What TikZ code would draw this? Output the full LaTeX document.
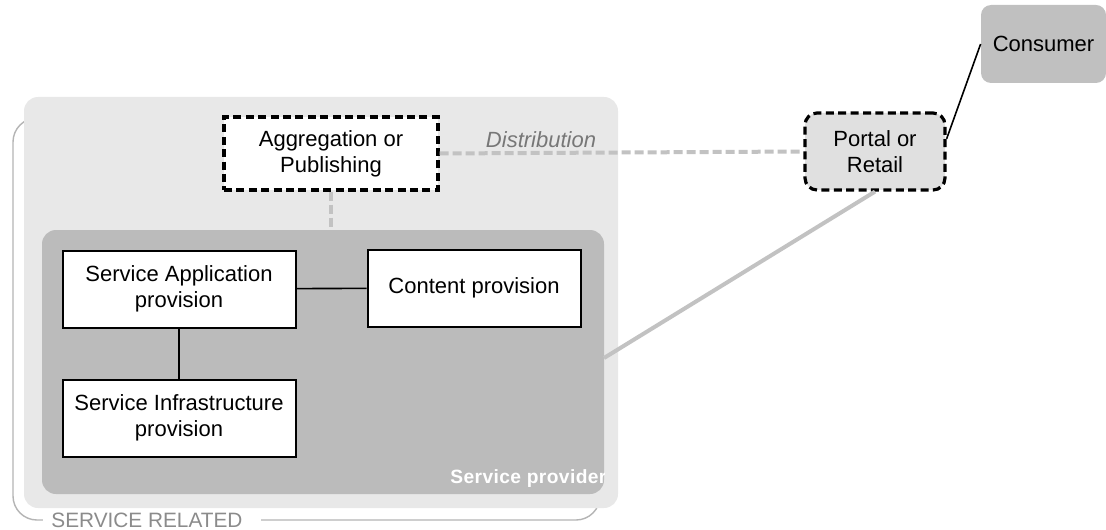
\documentclass[tikz,border=0pt]{standalone}
\usepackage{fontspec}
\setmainfont{Liberation Sans}
\usetikzlibrary{positioning,calc}
\definecolor{relbg}{HTML}{E8E8E8}
\definecolor{provbg}{HTML}{BBBBBB}
\definecolor{portalbg}{HTML}{E0E0E0}
\definecolor{consbg}{HTML}{C0C0C0}
\definecolor{linkgray}{HTML}{C2C2C2}
\definecolor{framegray}{HTML}{B4B4B4}
\definecolor{labelgray}{HTML}{777777}

\begin{document}
\begin{tikzpicture}[
  x=0.5pt, y=-0.5pt,
  every node/.style={font=\fontsize{11}{13}\selectfont, align=center, inner sep=0pt},
  role/.style={draw, line width=1pt, fill=white, minimum width=116.5pt, minimum height=38.5pt},
  broker/.style={draw, line width=1.6pt, dash pattern=on 4pt off 2.2pt, fill=white},
  area/.style={rounded corners=7pt, minimum width=#1},
  link/.style={draw=linkgray, line width=2pt},
  dlink/.style={draw=linkgray, line width=2pt, dash pattern=on 4.5pt off 2pt},
]
  \useasboundingbox (0,0) rectangle (1106,529);

  \draw[framegray, line width=0.7pt, rounded corners=12pt] (13,118) rectangle (600,520);
  \node[fill=white, anchor=base west, inner xsep=4pt, inner ysep=2pt, text=labelgray!85,
        font=\fontsize{10.4}{12}\selectfont] (relname) at (43,527) {SERVICE RELATED\hspace{5pt}};

  \node[area=297pt, fill=relbg, minimum height=205.5pt] (related) at (321,302.5) {};
  \node[area=281pt, fill=provbg, minimum height=132pt] (provider) at (323,362) {};

  \begin{scope}
    \clip (provider.south west) rectangle (provider.north east);
    \node[anchor=base west, text=white, font=\fontsize{9.6}{11}\selectfont\bfseries] (provname) at (450,483)
      {S\kern0.2pt e\kern0.2pt r\kern0.2pt v\kern0.2pt i\kern0.2pt c\kern0.2pt e\kern0.2pt\ p\kern0.2pt r\kern0.2pt o\kern0.2pt v\kern0.2pt i\kern0.2pt d\kern0.2pt e\kern0.2pt r};
  \end{scope}

  \node[broker, minimum width=107pt, minimum height=36.5pt] (agg) at (331,153.5) {Aggregation or\\Publishing};
  \node[broker, rounded corners=6pt, fill=portalbg, minimum width=70pt, minimum height=38.5pt] (portal) at (875,151.5) {Portal or\\Retail};
  \node[fill=consbg, rounded corners=5pt, minimum width=62.5pt, minimum height=39pt] (consumer) at (1043.5,44) {Consumer};

  \node[role] (app) at (179,289) {Service Application\\provision};
  \node[role, minimum width=106.5pt] (content) at (474,288) {Content provision};
  \node[role] (infra) at (179,418) {Service Infrastructure\\provision};

  \node[text=labelgray, font=\fontsize{11}{13}\selectfont\itshape] (distname) at (541,140) {Distribution};

  \coordinate (spout) at (604,358);

  \draw[line width=0.8pt] (app) -- (content);
  \draw[line width=0.8pt] (app) -- (infra);
  \draw[dlink] (agg.south) -- (agg.south |- provider.north);
  \draw[dlink] (agg.east) -- (portal.west);
  \draw[link] (spout) -- (portal.south);
  \draw[line width=0.8pt] (portal.10) -- (consumer.west);
\end{tikzpicture}
\end{document}
